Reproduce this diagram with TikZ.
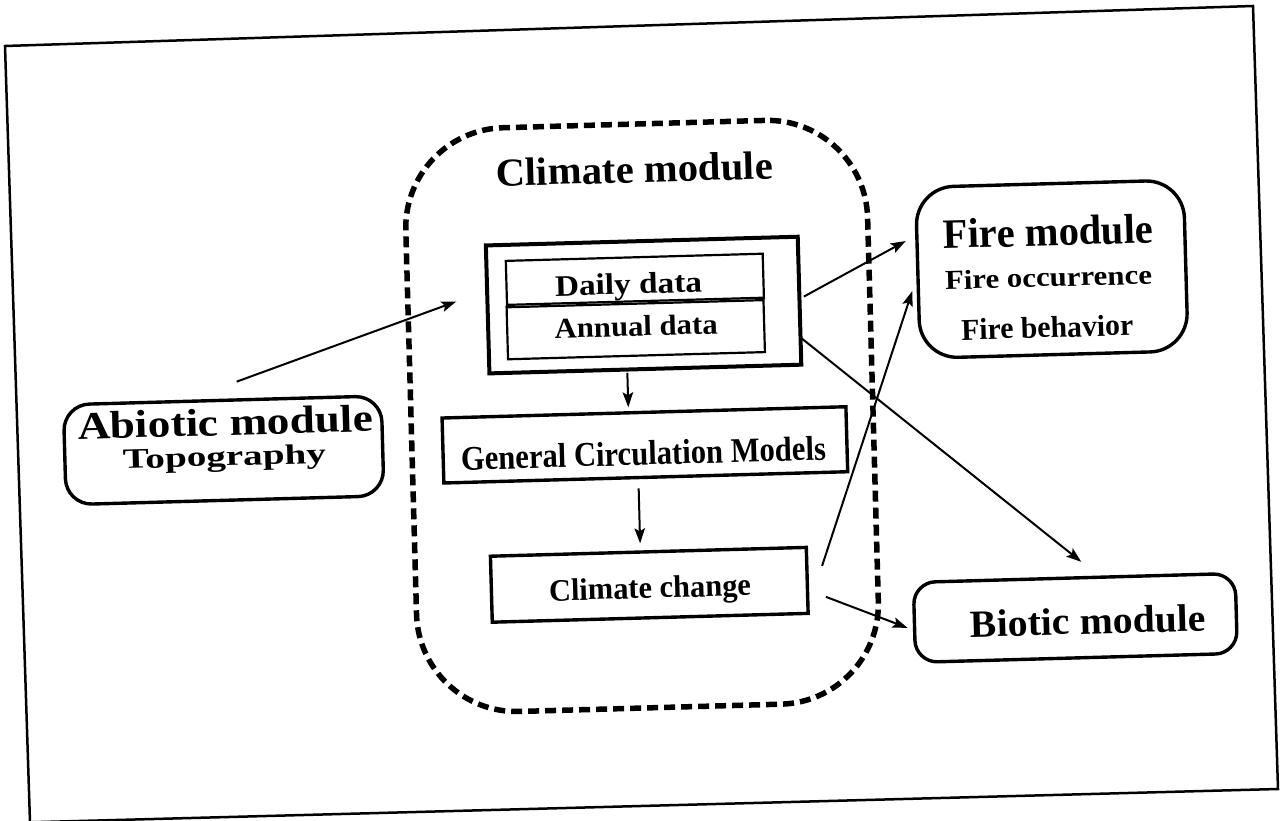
\documentclass[tikz,border=0pt]{standalone}
\usepackage{fontspec}
\setmainfont{Liberation Serif}
\usepackage{graphicx}
\usetikzlibrary{arrows.meta}
\begin{document}
\begin{tikzpicture}[x=1pt,y=-1pt,
  boxn/.style={draw, line width=3.4pt, inner sep=0pt},
  rbox/.style={boxn, rounded corners=#1},
  thinbox/.style={draw, line width=2.2pt, inner sep=0pt},
  dashbox/.style={draw, line width=5.5pt, dash pattern=on 11pt off 6pt, inner sep=0pt, rounded corners=100pt},
  lbl/.style={anchor=base, inner sep=0pt, font=\bfseries},
  arr/.style={line width=2pt, -{Stealth[length=15pt,width=10.5pt,inset=3pt]}},
  framel/.style={line width=2.5pt}]
\useasboundingbox (0,0) rectangle (1280,821);
% outer frame (scanned page, slightly rotated)
\coordinate (f1) at (5,46);
\coordinate (f2) at (1253,6);
\coordinate (f3) at (1278,789);
\coordinate (f4) at (30,822.3);
\draw[framel] (f1) -- (f2) -- (f3) -- (f4) -- cycle;
\begin{scope}[rotate around={1.6:(640,410)}, transform shape]
  % climate module
  \node[dashbox, minimum width=462pt, minimum height=584pt] (climate) at (641.9,416) {};
  \node[lbl] (tclimate) at (641,182.5) {\resizebox{277pt}{27.5pt}{Climate module}};
  \node[boxn, line width=4pt, minimum width=312pt, minimum height=128pt] (data) at (646.5,305.2) {};
  \node[thinbox, minimum width=257pt, minimum height=44pt] (daily) at (638.5,279.2) {};
  \node[thinbox, minimum width=257pt, minimum height=52pt] (annual) at (638,329.6) {};
  \node[lbl] (tdaily) at (632,293.7) {\resizebox{147pt}{20.7pt}{Daily data}};
  \node[lbl] (tannual) at (638.5,335.9) {\resizebox{163pt}{20pt}{Annual data}};
  \node[boxn, minimum width=404pt, minimum height=65pt] (gcm) at (643.9,445) {};
  \node[lbl] (tgcm) at (642.2,465.1) {\resizebox{365pt}{24pt}{General Circulation Models}};
  \node[boxn, minimum width=316pt, minimum height=66pt] (cc) at (644.4,585) {};
  \node[lbl] (tcc) at (645,598.4) {\resizebox{202pt}{21.7pt}{Climate change}};
  % fire module
  \node[rbox=38pt, minimum width=268pt, minimum height=171pt] (fire) at (1055.6,280.7) {};
  \node[lbl] (tfire) at (1053.3,257.1) {\resizebox{210pt}{29pt}{Fire module}};
  \node[lbl] (tocc) at (1052,298.1) {\resizebox{207pt}{19pt}{Fire occurrence}};
  \node[lbl] (tbeh) at (1049.4,349) {\resizebox{172pt}{21pt}{Fire behavior}};
  % abiotic module
  \node[rbox=26pt, minimum width=318pt, minimum height=100pt] (abiotic) at (222.7,438.7) {};
  \node[lbl] (tabiotic) at (225.1,423.8) {\resizebox{295pt}{27pt}{Abiotic module}};
  \node[lbl] (ttopo) at (223.2,454.2) {\resizebox{203pt}{19.5pt}{Topography}};
  % biotic module
  \node[rbox=22pt, minimum width=322pt, minimum height=80pt] (biotic) at (1069.4,630) {};
  \node[lbl] (tbiotic) at (1082,646.4) {\resizebox{235pt}{26.7pt}{Biotic module}};
  % connector end points
  \coordinate (a1s) at (237.6,370.4);
  \coordinate (a1e) at (459.4,296.4);
  \coordinate (a2s) at (807,301.2);
  \coordinate (a2e) at (910.4,248.5);
  \coordinate (a3s) at (817.7,570.9);
  \coordinate (a3e) at (915.5,298.7);
  \coordinate (a4s) at (802.3,341.8);
  \coordinate (a4e) at (1076.9,574.1);
  \coordinate (a5s) at (820.7,602);
  \coordinate (a5e) at (901.4,635.3);
  \coordinate (a6s) at (628.4,372.6);
  \coordinate (a6e) at (628.4,407);
  \coordinate (a7s) at (636.5,488.3);
  \coordinate (a7e) at (636.4,543.3);
  \draw[arr] (a1s) -- (a1e);
  \draw[arr] (a2s) -- (a2e);
  \draw[arr] (a3s) -- (a3e);
  \draw[arr] (a4s) -- (a4e);
  \draw[arr] (a5s) -- (a5e);
  \draw[arr] (a6s) -- (a6e);
  \draw[arr] (a7s) -- (a7e);
\end{scope}
\end{tikzpicture}
\end{document}
